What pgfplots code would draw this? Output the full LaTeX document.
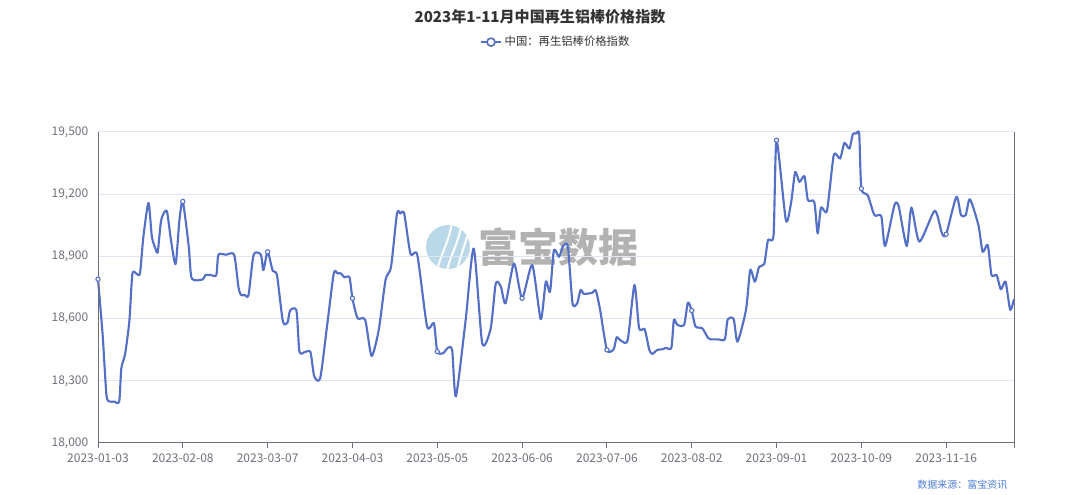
\documentclass[border=0pt]{standalone}
\usepackage{pgfplots}
\pgfplotsset{compat=1.18}
\usepackage{fontspec}
\setmainfont{Noto Sans CJK SC}

\definecolor{linec}{HTML}{5470C6}
\definecolor{gridc}{HTML}{E0E6F1}
\definecolor{axisc}{HTML}{6E7079}
\definecolor{titlec}{HTML}{333333}
\definecolor{srcc}{HTML}{4E7FD6}
\definecolor{logoc}{HTML}{A9CFE2}

% price index, x = trading-day index
\pgfplotstableread{
x y
0 18790
1.1 18520
2.0 18230
2.8 18200
3.8 18200
5 18200
5.5 18360
6.4 18430
7.4 18590
8.1 18815
9 18818
9.9 18818
10.7 18995
11.9 19158
12.7 18995
13.5 18940
14.1 18922
14.9 19075
16.2 19120
17.2 18979
18.3 18863
19.2 19075
20 19165
21.4 18947
22.1 18794
24.7 18789
25.3 18810
26.6 18810
27.9 18810
28.4 18908
30.2 18908
32.1 18908
33.1 18754
33.7 18714
34.6 18714
35.5 18714
36.7 18908
38.4 18908
39.0 18834
40 18922
41.2 18830
42.2 18810
43.6 18586
44.7 18581
45.3 18639
46.8 18639
47.5 18441
48.8 18439
50.1 18438
51.0 18321
52.4 18313
54.0 18562
55.6 18818
56.5 18818
57.3 18818
58.1 18799
59.3 18799
60 18698
61.2 18602
63.0 18594
64.5 18420
66.2 18545
67.8 18786
69.1 18850
70.5 19107
71.3 19107
72.2 19107
73.7 18911
75.3 18906
77.6 18562
79.2 18578
80 18441
81.4 18433
82.4 18457
83.5 18449
84.4 18225
86.7 18594
88.6 18938
90.6 18481
92.6 18553
93.8 18770
95.0 18754
96.1 18674
98.1 18866
100 18698
102.4 18858
104.4 18597
105.6 18778
106.6 18730
107.5 18930
108.7 18898
109.7 18950
110.8 18947
111.9 18674
113.0 18674
113.8 18738
114.6 18719
116.6 18725
117.4 18735
118.4 18642
120 18449
121.6 18452
122.3 18510
123.3 18494
124.9 18497
126.5 18762
127.6 18553
128.9 18549
130 18449
130.7 18430
131.9 18449
133.1 18452
133.9 18459
135.2 18459
135.8 18594
136.6 18570
138.2 18570
139.1 18677
140 18639
140.9 18562
142.5 18553
143.9 18505
144.5 18500
146.2 18500
147.8 18500
148.5 18597
149.9 18597
150.8 18489
152.8 18642
153.8 18834
154.9 18778
155.9 18850
157.1 18863
158.0 18979
159.3 19003
160 19460
162.2 19075
163.4 19155
164.4 19307
165.4 19259
166.6 19287
167.4 19171
168.9 19163
169.7 19011
170.5 19136
171.9 19120
173.5 19388
175.0 19372
176.0 19447
177.2 19420
178.0 19490
178.8 19492
179.5 19490
180 19227
181.5 19195
183.1 19099
184.7 19094
185.6 18950
187.8 19147
188.8 19142
190.7 18950
191.8 19136
193.7 18971
197.3 19120
199.0 19011
200 19007
202.4 19187
203.5 19099
204.6 19099
205.6 19176
207.6 19051
208.6 18922
209.8 18955
210.7 18810
211.9 18810
212.9 18741
214 18778
215.1 18642
216 18695
}\pricedata

\begin{document}
\begin{tikzpicture}[x=0.75pt,y=0.75pt]
\useasboundingbox (0,0) rectangle (1080,495);

% title
\node[font=\fontsize{11.3}{13}\selectfont\bfseries, text=titlec] at (540,478) {2023年1-11月中国再生铝棒价格指数};

% watermark
\begin{scope}
  \clip (448,248) circle (22);
  \fill[logoc, opacity=0.8] (448,248) circle (22);
  \draw[white, line width=1.5] (436,220) .. controls (440,240) and (448,250) .. (452,272);
  \draw[white, line width=1.5] (446,220) .. controls (450,240) and (458,250) .. (462,272);
  \draw[white, line width=1.5] (456,220) .. controls (460,240) and (466,250) .. (470,272);
\end{scope}
\node[font=\fontsize{30}{32}\selectfont\bfseries, text=black!30, anchor=west] at (474,248) {富宝数据};

% source
\node[font=\fontsize{7.5}{9}\selectfont, text=srcc, anchor=east] at (1012,10) {数据来源：富宝资讯};

\begin{axis}[
  at={(73.5pt,39pt)}, anchor=south west,
  width=687pt, height=233.25pt, scale only axis,
  xmin=0, xmax=216, ymin=18000, ymax=19500,
  ytick={18000,18300,...,19500},
  scaled y ticks=false,
  xtick={0,20,...,200},
  extra x ticks={216}, extra x tick labels={},
  xticklabels={2023-01-03,2023-02-08,2023-03-07,2023-04-03,2023-05-05,2023-06-06,2023-07-06,2023-08-02,2023-09-01,2023-10-09,2023-11-16},
  axis line style={draw=none},
  ymajorgrids, grid style={gridc, line width=0.75pt},
  xtick pos=lower, tick align=outside,
  major tick length=3.75pt,
  xtick style={axisc, line width=0.6pt},
  ytick style={draw=none},
  ticklabel style={font=\fontsize{9}{10}\selectfont, text=axisc},
  xticklabel style={yshift=-1pt},
  /pgf/number format/fixed,
  /pgf/number format/1000 sep={,},
  /pgf/number format/assume math mode=true,
  legend style={at={(axis description cs:0.5,1.289)}, anchor=center, draw=none, fill=none,
    font=\fontsize{8.5}{10}\selectfont, text=titlec, inner sep=0pt},
  legend cell align=left,
  legend image code/.code={
    \draw[linec, line width=1.5pt] (0pt,0pt) -- (15pt,0pt);
    \draw[linec, fill=white, line width=1.2pt] (7.5pt,0pt) circle (3pt);
  },
  clip=false,
]
\addplot[linec, line width=1.6pt, smooth, tension=0.4, line join=round] table[x=x,y=y] {\pricedata};
\addlegendentry{中国：再生铝棒价格指数}
\addplot[only marks, mark=*, mark size=1.6pt, mark options={draw=linec, fill=white, line width=0.8pt}, forget plot]
  coordinates {(0,18790) (20,19165) (40,18922) (60,18698) (80,18441) (100,18698) (120,18449) (140,18639) (160,19460) (180,19227) (200,19007)};
\draw[axisc, line width=0.75pt] (rel axis cs:0,1) -- (rel axis cs:0,0) -- (rel axis cs:1,0) -- (rel axis cs:1,1);
\end{axis}
\end{tikzpicture}
\end{document}
